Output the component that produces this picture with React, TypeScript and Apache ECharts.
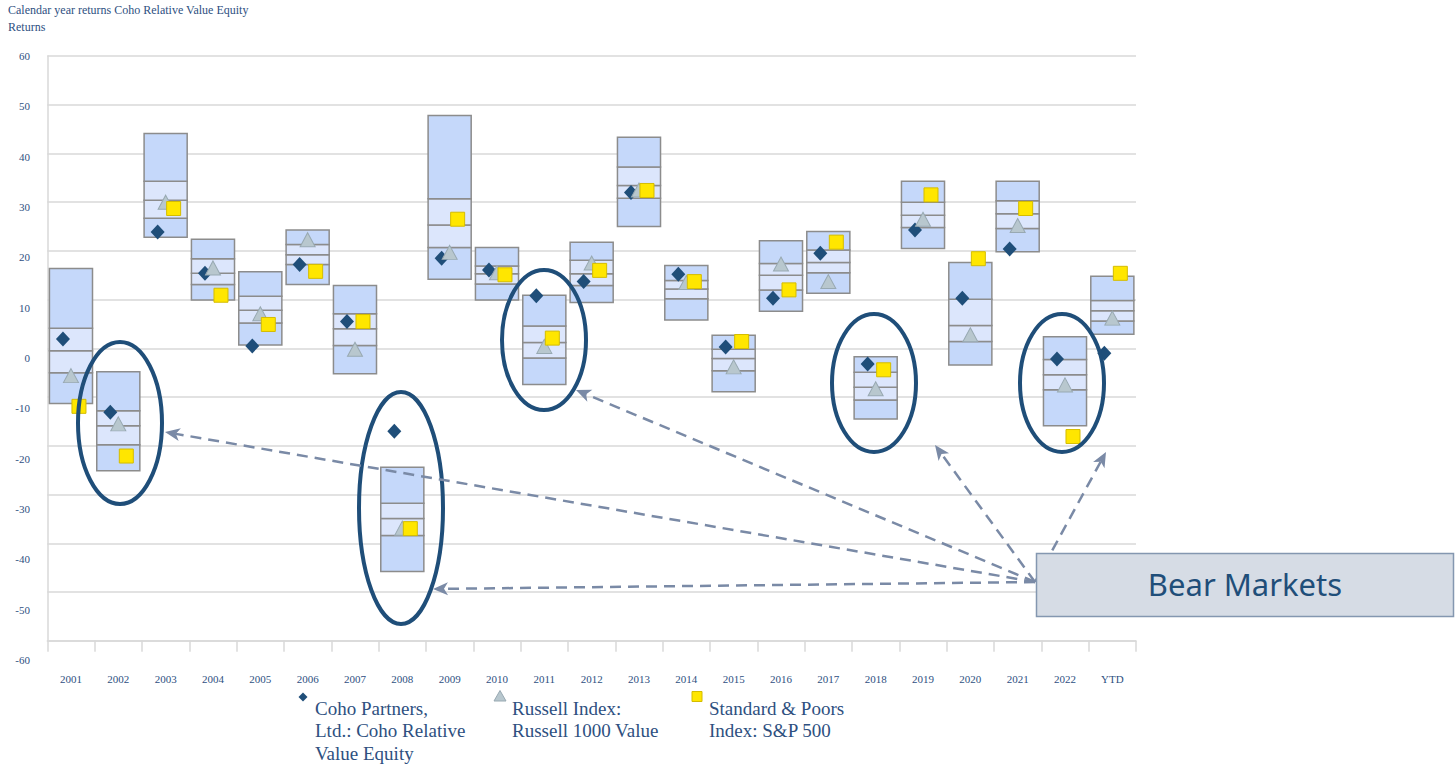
import React, { useEffect, useRef } from 'react';
import * as echarts from 'echarts';

// Calendar years shown on the category axis
const years = ['2001', '2002', '2003', '2004', '2005', '2006', '2007', '2008', '2009', '2010', '2011', '2012',
  '2013', '2014', '2015', '2016', '2017', '2018', '2019', '2020', '2021', '2022', 'YTD'];

// Annual returns (%)
const cohoReturns = [1.9, -13.1, 23.9, 15.4, 0.5, 17.2, 5.5, -17.0, 18.5, 16.1, 10.8, 13.7,
  32.0, 15.2, 0.3, 10.3, 19.5, -3.2, 24.3, 10.3, 20.4, -2.2, -1.0];
const russellReturns = [-5.6, -15.5, 30.0, 16.5, 7.1, 22.3, -0.2, -36.9, 19.7, 15.5, 0.4, 17.5,
  32.5, 13.5, -3.8, 17.3, 13.7, -8.3, 26.5, 2.8, 25.2, -7.5, 6.2];
const spReturns = [-11.9, -22.1, 28.7, 10.9, 4.9, 15.8, 5.5, -37.0, 26.5, 15.1, 2.1, 16.0,
  32.4, 13.7, 1.4, 12.0, 21.8, -4.4, 31.5, 18.4, 28.7, -18.1, 15.4];

// Peer-universe percentile bands for each year (%)
const boxTop = [16.4, -4.8, 44.1, 22.4, 15.7, 24.3, 12.9, -24.4, 47.8, 20.7, 10.9, 21.8,
  43.3, 17.0, 2.7, 22.1, 24.0, -1.7, 34.3, 17.6, 34.3, 2.4, 14.8];
const boxUpper = [4.1, -12.8, 34.3, 18.4, 10.7, 21.3, 7.1, -31.8, 30.7, 16.9, 4.6, 18.1,
  37.2, 13.9, -0.2, 17.4, 20.2, -4.9, 30.0, 10.1, 30.3, -2.3, 9.8];
const boxMedian = [-0.5, -15.9, 30.4, 15.4, 7.8, 19.2, 4.0, -34.9, 25.3, 15.3, 1.2, 15.3,
  33.4, 12.2, -2.1, 15.0, 17.6, -8.0, 27.3, 4.7, 27.6, -5.4, 7.7];
const boxLower = [-5.0, -19.8, 26.7, 13.1, 5.2, 17.2, 0.6, -38.4, 20.7, 13.2, -2.0, 12.9,
  30.8, 10.2, -4.6, 12.0, 15.5, -10.6, 24.8, 1.4, 24.6, -8.5, 5.6];
const boxBottom = [-11.3, -25.1, 22.8, 9.9, 0.7, 13.1, -5.2, -45.8, 14.2, 9.9, -7.4, 9.4,
  25.0, 5.8, -8.9, 7.6, 11.3, -14.5, 20.5, -3.4, 19.8, -15.9, 2.9];

const seriesNames = [
  'Coho Partners,\nLtd.: Coho Relative\nValue Equity',
  'Russell Index:\nRussell 1000 Value',
  'Standard & Poors\nIndex: S&P 500',
];

const NAVY = '#1F4E79';
const LABEL_BLUE = '#2E507F';
const GRID_GRAY = '#D9D9D9';
const ARROW = '#7A8AA6';
const SERIF = '"Liberation Serif", "Times New Roman", serif';

function arrow(from: number[], to: number[]) {
  const dx = to[0] - from[0];
  const dy = to[1] - from[1];
  const len = Math.hypot(dx, dy);
  const ux = dx / len;
  const uy = dy / len;
  const px = -uy;
  const py = ux;
  const headLen = 15;
  const half = 6.5;
  const notch = 4;
  const bx = to[0] - ux * headLen;
  const by = to[1] - uy * headLen;
  const nx = to[0] - ux * (headLen - notch);
  const ny = to[1] - uy * (headLen - notch);
  return [
    {
      type: 'line',
      z: 20,
      shape: { x1: from[0], y1: from[1], x2: nx, y2: ny },
      style: { stroke: ARROW, lineWidth: 2.5, lineDash: [11, 7] },
    },
    {
      type: 'polygon',
      z: 20,
      shape: { points: [[to[0], to[1]], [bx + px * half, by + py * half], [nx, ny], [bx - px * half, by - py * half]] },
      style: { fill: ARROW },
    },
  ];
}

function ring(cx: number, cy: number, rx: number, ry: number) {
  return {
    type: 'ellipse',
    z: 15,
    shape: { cx, cy, rx, ry },
    style: { fill: 'none', stroke: NAVY, lineWidth: 4 },
  };
}

function legendItem(icon: any, x: number, text: string) {
  return [
    icon,
    {
      type: 'text',
      z: 20,
      x,
      y: 697,
      style: {
        text,
        fontSize: 19,
        fontFamily: SERIF,
        fill: LABEL_BLUE,
        lineHeight: 22.5,
        verticalAlign: 'top',
        align: 'left',
      },
    },
  ];
}

export default function App() {
  const ref = useRef<HTMLDivElement>(null);

  useEffect(() => {
    if (!ref.current) return;
    const chart = echarts.init(ref.current, undefined, { renderer: 'svg' });

    const boxData = years.map((_, i) => [i, boxBottom[i], boxLower[i], boxMedian[i], boxUpper[i], boxTop[i]]);
    const origin = [1035, 582];

    const graphics: any[] = [
      ring(120, 423, 42, 81),
      ring(401, 508, 42, 116),
      ring(544, 340, 42, 70),
      ring(874, 383, 42, 69),
      ring(1062, 383, 42, 69),
      ...arrow(origin, [165, 432]),
      ...arrow(origin, [433, 589]),
      ...arrow(origin, [576, 390]),
      ...arrow(origin, [935, 445]),
      ...arrow(origin, [1106, 452]),
      {
        type: 'rect',
        z: 25,
        shape: { x: 1036.5, y: 553.5, width: 417, height: 63 },
        style: { fill: '#D6DCE5', stroke: '#8497B0', lineWidth: 1.5 },
      },
      {
        type: 'text',
        z: 26,
        x: 1245,
        y: 584,
        style: {
          text: 'Bear Markets',
          fontSize: 31,
          fontFamily: '"Noto Sans", "Open Sans", sans-serif',
          fill: NAVY,
          align: 'center',
          verticalAlign: 'middle',
        },
      },
      ...legendItem(
        { type: 'polygon', z: 20, shape: { points: [[303, 692.5], [307.5, 697], [303, 701.5], [298.5, 697]] }, style: { fill: NAVY } },
        315,
        seriesNames[0],
      ),
      ...legendItem(
        { type: 'polygon', z: 20, shape: { points: [[500, 690.5], [506, 701], [494, 701]] }, style: { fill: '#B8C7CE', stroke: '#98A9B2', lineWidth: 1 } },
        512,
        seriesNames[1],
      ),
      ...legendItem(
        { type: 'rect', z: 20, shape: { x: 692, y: 691.5, width: 10, height: 10 }, style: { fill: '#FFE600', stroke: '#D4BC00', lineWidth: 1 } },
        709,
        seriesNames[2],
      ),
    ];

    chart.setOption({
      animation: false,
      backgroundColor: '#ffffff',
      title: {
        text: 'Calendar year returns Coho Relative Value Equity\nReturns',
        left: 8,
        top: 1,
        padding: 0,
        textStyle: { fontSize: 12, fontWeight: 'normal', fontFamily: SERIF, color: LABEL_BLUE, lineHeight: 17 },
      },
      grid: [
        { left: 47.3, right: 319, top: 56, bottom: 124.3, containLabel: false },
        { left: 38, right: 319, top: 56, bottom: 105, containLabel: false },
      ],
      xAxis: [
        {
          type: 'category',
          gridIndex: 0,
          data: years,
          boundaryGap: true,
          axisLine: { onZero: false, lineStyle: { color: GRID_GRAY, width: 1.5 } },
          axisTick: { show: true, length: 11, interval: 0, lineStyle: { color: GRID_GRAY, width: 1.5 } },
          axisLabel: { interval: 0, margin: 33, fontSize: 11, fontFamily: SERIF, color: LABEL_BLUE },
          splitLine: { show: false },
        },
        { type: 'value', gridIndex: 1, min: 0, max: 1, show: false },
      ],
      yAxis: [
        {
          type: 'value',
          gridIndex: 0,
          min: -60,
          max: 60,
          interval: 10,
          axisLine: { show: true, lineStyle: { color: GRID_GRAY, width: 1.5 } },
          axisTick: { show: false },
          axisLabel: { show: false },
          splitLine: { show: true, lineStyle: { color: GRID_GRAY, width: 1.5 } },
        },
        {
          type: 'value',
          gridIndex: 1,
          min: -60,
          max: 60,
          interval: 10,
          axisLine: { show: false },
          axisTick: { show: false },
          splitLine: { show: false },
          axisLabel: { show: true, margin: 8, fontSize: 11, fontFamily: SERIF, color: LABEL_BLUE },
        },
      ],
      series: [
        {
          type: 'custom',
          name: 'Peer range',
          xAxisIndex: 0,
          yAxisIndex: 0,
          data: boxData,
          encode: { x: 0, y: [1, 2, 3, 4, 5] },
          z: 2,
          renderItem: (_params: any, api: any) => {
            const idx = api.value(0);
            const levels = [1, 2, 3, 4, 5].map((d) => api.coord([idx, api.value(d)])[1]);
            const cx = api.coord([idx, 0])[0];
            const w = api.size([1, 0])[0] * 0.91;
            const x = cx - w / 2;
            const children: any[] = [];
            for (let k = 0; k < 4; k++) {
              const y0 = Math.min(levels[k], levels[k + 1]);
              const h = Math.abs(levels[k] - levels[k + 1]);
              children.push({
                type: 'rect',
                shape: { x, y: y0, width: w, height: h },
                style: {
                  fill: k === 0 || k === 3 ? '#C5D8FA' : '#DCE6FC',
                  stroke: '#8C8C8C',
                  lineWidth: 1.5,
                },
              });
            }
            return { type: 'group', children };
          },
        },
        {
          type: 'scatter',
          name: seriesNames[0],
          xAxisIndex: 0,
          yAxisIndex: 0,
          data: cohoReturns,
          symbol: 'diamond',
          symbolSize: [14, 15],
          symbolOffset: [-8, 0],
          itemStyle: { color: NAVY, opacity: 1 },
          z: 5,
        },
        {
          type: 'scatter',
          name: seriesNames[1],
          xAxisIndex: 0,
          yAxisIndex: 0,
          data: russellReturns,
          symbol: 'triangle',
          symbolSize: [15, 14],
          itemStyle: { color: '#B8C7CE', borderColor: '#98A9B2', borderWidth: 1, opacity: 1 },
          z: 6,
        },
        {
          type: 'scatter',
          name: seriesNames[2],
          xAxisIndex: 0,
          yAxisIndex: 0,
          data: spReturns,
          symbol: 'rect',
          symbolSize: 14,
          symbolOffset: [8, 0],
          itemStyle: { color: '#FFE600', borderColor: '#D4BC00', borderWidth: 1, opacity: 1 },
          z: 7,
        },
      ],
      graphic: graphics,
    });

    return () => chart.dispose();
  }, []);

  return (
    <div
      ref={ref}
      style={{ position: 'fixed', left: 0, top: 0, width: 1455, height: 765, background: '#fff' }}
    />
  );
}
